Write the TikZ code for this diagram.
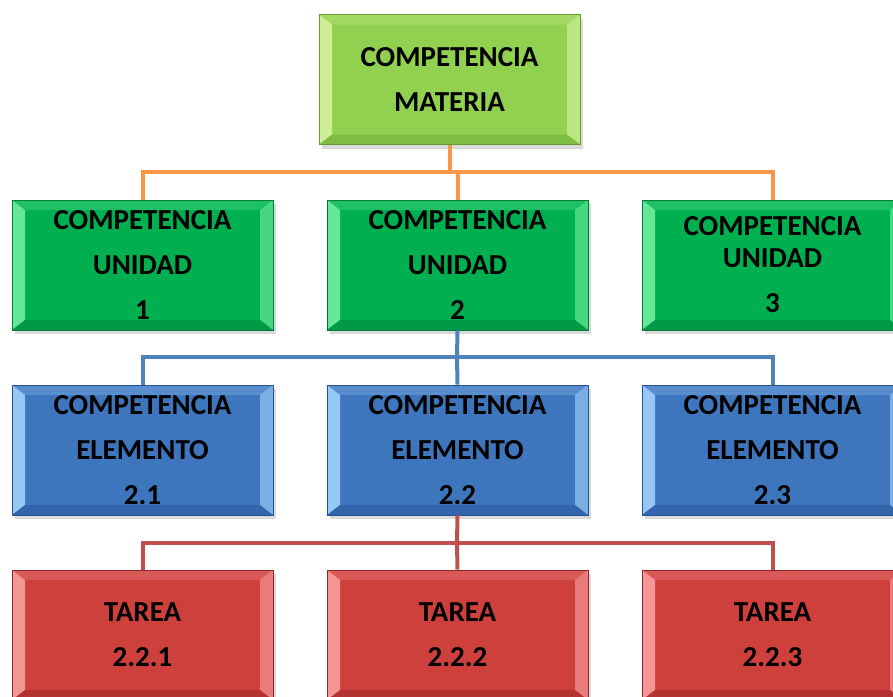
\documentclass[tikz,border=0pt]{standalone}
\usepackage{fontspec}
\setmainfont{Carlito}
\usetikzlibrary{calc,shadows}
\definecolor{limeB}{RGB}{146,208,80}\definecolor{limeL}{RGB}{205,240,150}\definecolor{limeD}{RGB}{120,180,64}
\definecolor{grnB}{RGB}{0,176,80}\definecolor{grnL}{RGB}{100,232,150}\definecolor{grnD}{RGB}{0,145,66}
\definecolor{bluB}{RGB}{62,118,190}\definecolor{bluL}{RGB}{150,200,245}\definecolor{bluD}{RGB}{45,95,165}
\definecolor{redB}{RGB}{205,64,60}\definecolor{redL}{RGB}{245,150,150}\definecolor{redD}{RGB}{170,45,45}
\definecolor{oLine}{RGB}{247,150,70}\definecolor{bLine}{RGB}{79,129,189}\definecolor{rLine}{RGB}{192,80,77}
\tikzset{
  bevel/.style n args={3}{
    fill=#1, draw=#3!85!black, line width=0.6pt,
    minimum width=261pt, minimum height=130pt, inner sep=0pt,
    align=center, font=\bfseries\fontsize{29}{45}\selectfont,
    drop shadow={shadow xshift=3pt, shadow yshift=-4pt, opacity=0.3},
    path picture={
      \fill[#2] (path picture bounding box.north west) -- ++(13,10)
        -- ($(path picture bounding box.south west)+(13,-10)$)
        -- (path picture bounding box.south west) -- cycle;
      \fill[#2,opacity=0.7] (path picture bounding box.north east) -- ++(-13,10)
        -- ($(path picture bounding box.south east)+(-13,-10)$)
        -- (path picture bounding box.south east) -- cycle;
      \fill[#2,opacity=0.3] (path picture bounding box.north west) -- ++(13,10)
        -- ($(path picture bounding box.north east)+(-13,10)$)
        -- (path picture bounding box.north east) -- cycle;
      \fill[#3,opacity=0.7] (path picture bounding box.south west) -- ++(13,-10)
        -- ($(path picture bounding box.south east)+(-13,-10)$)
        -- (path picture bounding box.south east) -- cycle;
    }},
  limebox/.style={bevel={limeB}{limeL}{limeD}},
  grnbox/.style={bevel={grnB}{grnL}{grnD}},
  blubox/.style={bevel={bluB}{bluL}{bluD}},
  redbox/.style={bevel={redB}{redL}{redD}},
  conn/.style={line width=4pt, draw=#1}
}
\begin{document}
\begin{tikzpicture}[x=1pt,y=-1pt]
\useasboundingbox (0,0) rectangle (893,696);
\coordinate (oj) at (449,172);
\coordinate (bj) at (457,357);
\coordinate (rj) at (457,543);
\node[limebox] (m) at (449.5,79.5) {COMPETENCIA\\MATERIA};
\node[grnbox] (u1) at (142.5,265) {COMPETENCIA\\UNIDAD\\1};
\node[grnbox] (u2) at (457.5,265) {COMPETENCIA\\UNIDAD\\2};
\node[grnbox] (u3) at (772.5,265) {COMPETENCIA\\[-13pt]UNIDAD\\3};
\node[blubox] (e1) at (142.5,450) {COMPETENCIA\\ELEMENTO\\2.1};
\node[blubox] (e2) at (457.5,450) {COMPETENCIA\\ELEMENTO\\2.2};
\node[blubox] (e3) at (772.5,450) {COMPETENCIA\\ELEMENTO\\2.3};
\node[redbox] (t1) at (142.5,635) {TAREA\\2.2.1};
\node[redbox] (t2) at (457.5,635) {TAREA\\2.2.2};
\node[redbox] (t3) at (772.5,635) {TAREA\\2.2.3};
\draw[conn=oLine] (m.south) -- (m.south |- oj);
\draw[conn=oLine] (u1.north) -- (u1.north |- oj) -- (u3.north |- oj) -- (u3.north);
\draw[conn=oLine] (u2.north) -- (u2.north |- oj);
\draw[conn=bLine] (u2.south) -- (bj);
\draw[conn=bLine] (e1.north) -- (e1.north |- bj) -- (e3.north |- bj) -- (e3.north);
\draw[conn=bLine] (e2.north) -- (bj);
\draw[conn=rLine] (e2.south) -- (rj);
\draw[conn=rLine] (t1.north) -- (t1.north |- rj) -- (t3.north |- rj) -- (t3.north);
\draw[conn=rLine] (t2.north) -- (rj);
\end{tikzpicture}
\end{document}
